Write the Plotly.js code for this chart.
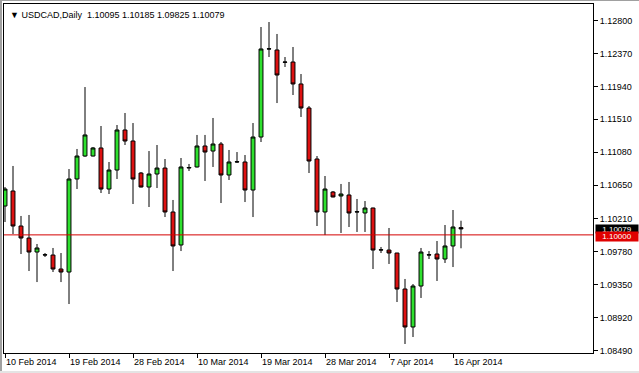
<!DOCTYPE html>
<html>
<head>
<meta charset="utf-8">
<script src="https://cdn.plot.ly/plotly-3.0.1.min.js"></script>
<style>
  html, body { margin: 0; padding: 0; background: #ffffff; }
  #wrap { position: relative; width: 639px; height: 373px; overflow: hidden; }
  #chart { position: absolute; left: 0; top: 0; width: 639px; height: 373px; }
  #edgeL { position: absolute; left: 0; top: 0; width: 2px; height: 373px; background: #a0a0a0; }
  #edgeT { position: absolute; left: 0; top: 0; width: 639px; height: 1px; background: #a0a0a0; }
  #edgeB { position: absolute; left: 0; bottom: 0; width: 639px; height: 2px; background: #e4e4e4; }
</style>
</head>
<body>
<div id="wrap"><div id="chart"></div><div id="edgeL"></div><div id="edgeT"></div><div id="edgeB"></div></div>
<script>
// ---- data (USDCAD, Daily) ----
const symbolTitle = "\u25BC USDCAD,Daily  1.10095 1.10185 1.09825 1.10079";

const dates = [
  "10 Feb 2014","11 Feb 2014","12 Feb 2014","13 Feb 2014","14 Feb 2014","16 Feb 2014","17 Feb 2014","18 Feb 2014",
  "19 Feb 2014","20 Feb 2014","21 Feb 2014","23 Feb 2014","24 Feb 2014","25 Feb 2014","26 Feb 2014","27 Feb 2014",
  "28 Feb 2014","2 Mar 2014","3 Mar 2014","4 Mar 2014","5 Mar 2014","6 Mar 2014","7 Mar 2014","9 Mar 2014",
  "10 Mar 2014","11 Mar 2014","12 Mar 2014","13 Mar 2014","14 Mar 2014","16 Mar 2014","17 Mar 2014","18 Mar 2014",
  "19 Mar 2014","20 Mar 2014","21 Mar 2014","23 Mar 2014","24 Mar 2014","25 Mar 2014","26 Mar 2014","27 Mar 2014",
  "28 Mar 2014","30 Mar 2014","31 Mar 2014","1 Apr 2014","2 Apr 2014","3 Apr 2014","4 Apr 2014","6 Apr 2014",
  "7 Apr 2014","8 Apr 2014","9 Apr 2014","10 Apr 2014","11 Apr 2014","13 Apr 2014","14 Apr 2014","15 Apr 2014",
  "16 Apr 2014","17 Apr 2014"
];

const openP = [
  1.10377,1.10573,1.10116,1.09959,1.09776,1.09737,1.09737,1.09554,
  1.09515,1.10730,1.11030,1.11030,1.11135,1.10599,1.10847,1.11370,
  1.11226,1.10808,1.10625,1.10795,1.10873,1.10299,1.09868,1.10873,
  1.10887,1.11161,1.11095,1.11187,1.10782,1.10952,1.10952,1.10586,
  1.11278,1.12428,1.12415,1.12258,1.12258,1.11971,1.11657,1.10991,
  1.10299,1.10560,1.10508,1.10521,1.10299,1.10286,1.10351,1.09802,
  1.09802,1.09763,1.09293,1.08797,1.09332,1.09737,1.09750,1.09685,
  1.09855,1.10095
];
const highP = [
  1.10625,1.10900,1.10247,1.10260,1.09881,1.09763,1.09829,1.09763,
  1.10860,1.11122,1.11931,1.11148,1.11422,1.10952,1.11435,1.11592,
  1.11461,1.10821,1.11095,1.11174,1.10991,1.10456,1.11004,1.10926,
  1.11305,1.11305,1.11527,1.11213,1.11109,1.11082,1.11043,1.11461,
  1.12715,1.12780,1.12624,1.12323,1.12454,1.12101,1.11683,1.11030,
  1.10769,1.10573,1.10665,1.10691,1.10469,1.10442,1.10355,1.09842,
  1.10090,1.09765,1.09424,1.09358,1.09829,1.09789,1.09920,1.10129,
  1.10325,1.10185
];
const lowP = [
  1.10168,1.10011,1.09750,1.09528,1.09384,1.09711,1.09515,1.09384,
  1.09097,1.10599,1.11020,1.11025,1.10547,1.10534,1.10730,1.11174,
  1.10403,1.10620,1.10364,1.10612,1.10233,1.09528,1.09789,1.10834,
  1.10880,1.10704,1.10887,1.10416,1.10717,1.10940,1.10429,1.10233,
  1.11213,1.12323,1.11722,1.12193,1.11827,1.11540,1.10808,1.10116,
  1.09998,1.10490,1.10025,1.10103,1.10038,1.10038,1.09554,1.09763,
  1.09620,1.09123,1.08575,1.08666,1.09176,1.09685,1.09398,1.09633,
  1.09580,1.09825
];
const closeP = [
  1.10599,1.10116,1.09959,1.09776,1.09829,1.09740,1.09554,1.09515,
  1.10730,1.11030,1.11305,1.11135,1.10599,1.10847,1.11370,1.11226,
  1.10730,1.10625,1.10795,1.10873,1.10299,1.09855,1.10887,1.10880,
  1.11161,1.11082,1.11187,1.10782,1.10952,1.10955,1.10586,1.11278,
  1.12428,1.12430,1.12088,1.12255,1.11971,1.11657,1.10965,1.10299,
  1.10599,1.10495,1.10534,1.10286,1.10302,1.10351,1.09802,1.09805,
  1.09763,1.09293,1.08797,1.09332,1.09776,1.09740,1.09685,1.09855,
  1.10103,1.10079
];

const yTickVals = [1.0849,1.0892,1.0935,1.0978,1.1021,1.1065,1.1108,1.1151,1.1194,1.1237,1.1280];
const yTickText = ["1.08490","1.08920","1.09350","1.09780","1.10210","1.10650","1.11080","1.11510","1.11940","1.12370","1.12800"];
const xLabelEvery = 8;
const levelLine = 1.10000;
const lastPrice = 1.10079;

// ---- build ----
const idx = dates.map((d, i) => i);
const xTickVals = idx.filter(i => i % xLabelEvery === 0);
const xTickText = xTickVals.map(i => dates[i]);

const FONT = "Liberation Sans, Arial, sans-serif";

const trace = {
  type: "candlestick",
  x: idx,
  open: openP, high: highP, low: lowP, close: closeP,
  increasing: { line: { color: "#000000", width: 1 }, fillcolor: "#2ee02e" },
  decreasing: { line: { color: "#000000", width: 1 }, fillcolor: "#dd1111" },
  whiskerwidth: 0,
  hoverinfo: "skip",
  showlegend: false
};

const layout = {
  width: 639, height: 373,
  margin: { l: 4, r: 46, t: 4, b: 20, pad: 0 },
  paper_bgcolor: "#ffffff",
  plot_bgcolor: "#ffffff",
  showlegend: false,
  boxgap: 0.3,
  font: { family: FONT, size: 9, color: "#000000" },
  xaxis: {
    type: "linear",
    range: [-0.125, 73.5],
    rangeslider: { visible: false },
    showgrid: false, zeroline: false,
    showline: true, linecolor: "#000000", linewidth: 1, mirror: true,
    tickmode: "array", tickvals: xTickVals, ticktext: xTickText,
    ticks: "outside", ticklen: 4, tickcolor: "#000000", tickwidth: 1,
    ticklabelposition: "outside right",
    tickfont: { family: FONT, size: 9, color: "#000000" },
    fixedrange: true
  },
  yaxis: {
    side: "right",
    range: [1.084573, 1.130155],
    showgrid: false, zeroline: false,
    showline: true, linecolor: "#000000", linewidth: 1, mirror: true,
    tickmode: "array", tickvals: yTickVals, ticktext: yTickText,
    ticks: "outside", ticklen: 4, tickcolor: "#000000", tickwidth: 1,
    tickfont: { family: FONT, size: 9, color: "#000000" },
    fixedrange: true
  },
  shapes: [
    { type: "line", xref: "paper", x0: 0, x1: 1, yref: "y", y0: levelLine, y1: levelLine,
      line: { color: "#d40000", width: 1 } }
  ],
  annotations: [
    { xref: "paper", yref: "paper", x: 0, y: 1, xanchor: "left", yanchor: "top",
      xshift: 4, yshift: -4, text: symbolTitle, showarrow: false,
      font: { family: FONT, size: 9, color: "#000000" } },
    { xref: "paper", yref: "y", x: 1, y: lastPrice, xanchor: "left", yanchor: "middle",
      xshift: 2, yshift: 0, text: lastPrice.toFixed(5), showarrow: false,
      bgcolor: "#000000", borderpad: 0, width: 42, height: 8,
      font: { family: FONT, size: 8, color: "#ffffff" } },
    { xref: "paper", yref: "y", x: 1, y: levelLine, xanchor: "left", yanchor: "middle",
      xshift: 2, yshift: -2, text: levelLine.toFixed(5), showarrow: false,
      bgcolor: "#e00000", borderpad: 0, width: 42, height: 9,
      font: { family: FONT, size: 8, color: "#ffffff" } }
  ]
};

Plotly.newPlot("chart", [trace], layout, { displayModeBar: false, staticPlot: true });
</script>
</body>
</html>
